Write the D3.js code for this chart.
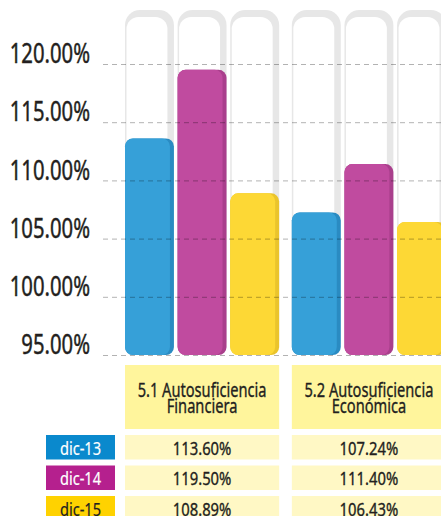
<!DOCTYPE html>
<html>
<head>
<meta charset="utf-8">
<script src="https://cdn.jsdelivr.net/npm/d3@7"></script>
<style>
  body { margin:0; background:#fff; }
  text { font-family:"Noto Sans","DejaVu Sans",sans-serif; fill:#231f20; stroke:#231f20; stroke-width:0.35px; }
</style>
</head>
<body>
<script>
var categories = ["5.1 Autosuficiencia Financiera","5.2 Autosuficiencia Económica"];
var headerLines = [["5.1 Autosuficiencia","Financiera"],["5.2 Autosuficiencia","Económica"]];
var series = ["dic-13","dic-14","dic-15"];
var dic13 = [113.60,107.24];
var dic14 = [119.50,111.40];
var dic15 = [108.89,106.43];
var yTicks = [95,100,105,110,115,120];

var barColors  = ["#36a0d8","#c04b9f","#fdd835"];
var edgeColors = ["#2a8bc2","#a93f8c","#eac42c"];
var keyColors  = ["#0a89cd","#b5208e","#ffd200"];
var keyText    = ["#fff","#fff","#231f20"];

var width = 441;
var height = 516;

// the original uses a condensed face, so squeeze a regular one
var squeeze = function(sel,k)
{
  sel.each(function(){
    var w = this.getComputedTextLength();
    d3.select(this)
      .attr("textLength",w*k)
      .attr("lengthAdjust","spacingAndGlyphs");
  })
}

var svg = d3.select("body").append("svg")
  .attr("width",width)
  .attr("height",height);

var allValues = [dic13,dic14,dic15];

var y = d3.scaleLinear()
  .domain([95,120])
  .range([355,64]);

var x0 = d3.scaleBand()
  .domain(categories)
  .range([125,446])
  .paddingInner(0.076);

var x1 = d3.scaleBand()
  .domain(series)
  .range([0,x0.bandwidth()])
  .paddingInner(0.07);

var trackTop = 10;

// grey tracks behind the bars
categories.forEach(function(cat,ci){
  series.forEach(function(s,si){
    var bx = x0(cat)+x1(s);
    var bw = x1.bandwidth();
    svg.append("rect")
      .attr("x",bx).attr("y",trackTop)
      .attr("width",bw).attr("height",y(95)-trackTop)
      .attr("rx",15)
      .attr("fill","#e7e7e7");
    svg.append("rect")
      .attr("x",bx+1.5).attr("y",trackTop+7)
      .attr("width",bw-8).attr("height",y(95)-trackTop-7)
      .attr("rx",12)
      .attr("fill","#fff");
  })
})

// bars
categories.forEach(function(cat,ci){
  series.forEach(function(s,si){
    var v = allValues[si][ci];
    var bx = x0(cat)+x1(s);
    var bw = x1.bandwidth();
    svg.append("rect")
      .attr("x",bx).attr("y",y(v))
      .attr("width",bw).attr("height",y(95)-y(v))
      .attr("rx",8)
      .attr("fill",edgeColors[si]);
    svg.append("rect")
      .attr("x",bx).attr("y",y(v))
      .attr("width",bw-4).attr("height",y(95)-y(v))
      .attr("rx",8)
      .attr("fill",barColors[si]);
  })
})

// axis with dashed grid on top
var yAxis = d3.axisLeft(y)
  .tickValues(yTicks)
  .tickFormat(function(d){ return d.toFixed(2)+"%"; })
  .tickSize(-(width-103))
  .tickPadding(13);

var axisG = svg.append("g")
  .attr("transform","translate(103,0)")
  .call(yAxis);

axisG.select(".domain").remove();
axisG.selectAll(".tick line")
  .attr("stroke","#000")
  .attr("stroke-opacity",0.3)
  .attr("stroke-dasharray","5,4");
var tickText = axisG.selectAll(".tick text")
  .attr("dy","-0.05em")
  .style("font-size","26.5px")
  .style("font-family","'Noto Sans','DejaVu Sans',sans-serif")
  .style("stroke-width","0.45px")
  .attr("fill","#231f20");
squeeze(tickText,0.765);

// table header
categories.forEach(function(cat,ci){
  svg.append("rect")
    .attr("x",x0(cat)).attr("y",365)
    .attr("width",x0.bandwidth()).attr("height",64)
    .attr("fill","#fff59c");
  headerLines[ci].forEach(function(line,li){
    var t = svg.append("text")
      .attr("x",x0(cat)+x0.bandwidth()/2)
      .attr("y",397+li*15.6)
      .attr("text-anchor","middle")
      .style("font-size","19.5px")
      .text(line);
    squeeze(t,0.75);
  })
})

// value rows and legend keys
var rowTop = 435;
var rowStep = 30.5;
var rowH = 24.5;
series.forEach(function(s,si){
  var ry = rowTop+si*rowStep;
  svg.append("rect")
    .attr("x",46).attr("y",ry)
    .attr("width",69).attr("height",rowH)
    .attr("fill",keyColors[si]);
  var kt = svg.append("text")
    .attr("x",80.5).attr("y",ry+19.5)
    .attr("text-anchor","middle")
    .style("font-size","18.5px")
    .style("fill",keyText[si])
    .style("stroke",keyText[si])
    .style("stroke-width","0.2px")
    .text(s);
  squeeze(kt,0.79);
  categories.forEach(function(cat,ci){
    svg.append("rect")
      .attr("x",x0(cat)).attr("y",ry)
      .attr("width",x0.bandwidth()).attr("height",rowH)
      .attr("fill","#fff8c5");
    var vt = svg.append("text")
      .attr("x",x0(cat)+x0.bandwidth()/2).attr("y",ry+19.5)
      .attr("text-anchor","middle")
      .style("font-size","18.5px")
      .text(allValues[si][ci].toFixed(2)+"%");
    squeeze(vt,0.8);
  })
})
</script>
</body>
</html>
